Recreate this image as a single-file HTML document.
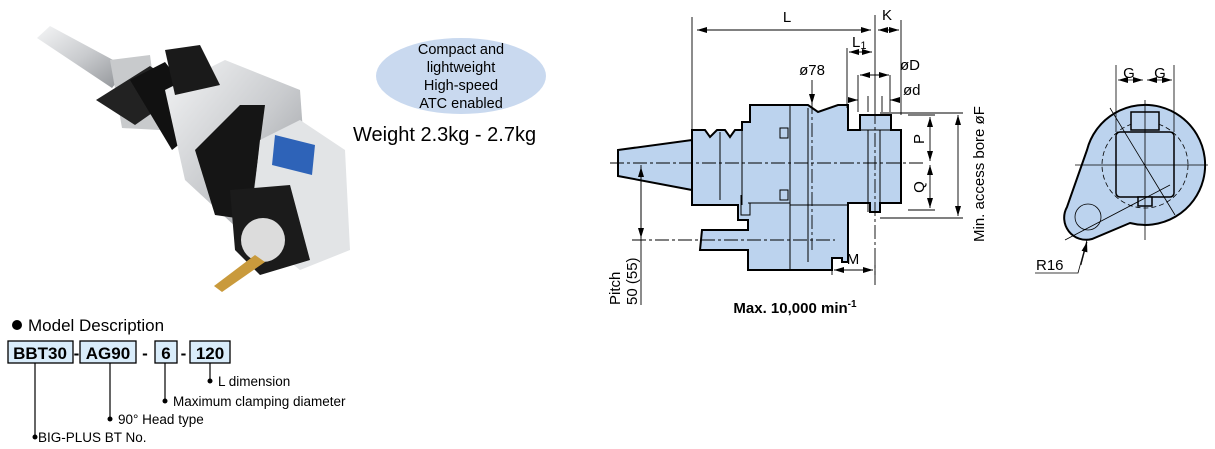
<!DOCTYPE html>
<html><head><meta charset="utf-8"><style>
body{margin:0;background:#fff;width:1215px;height:449px;overflow:hidden;font-family:"Liberation Sans",Arial,sans-serif}
svg{display:block}
text{font-family:"Liberation Sans",Arial,sans-serif}
</style></head><body>
<svg width="1215" height="449" viewBox="0 0 1215 449">
<defs>
<marker id="a" viewBox="0 0 10 6" refX="10" refY="3" markerWidth="10" markerHeight="6" orient="auto-start-reverse" markerUnits="userSpaceOnUse"><path d="M0,0L10,3L0,6z" fill="#000"/></marker>
<linearGradient id="m" x1="0" y1="0" x2="1" y2="1"><stop offset="0" stop-color="#f4f5f6"/><stop offset=".5" stop-color="#c9cbce"/><stop offset="1" stop-color="#8d9094"/></linearGradient>
</defs>
<!-- photo approximation -->
<g>
<polygon points="37,38 50,26 128,68 112,88" fill="url(#m)"/>
<polygon points="110,60 150,55 160,130 122,128" fill="#c8cacc"/>
<polygon points="96,100 150,66 185,90 135,125" fill="#222"/>
<polygon points="130,80 165,62 210,120 172,150" fill="#111"/>
<polygon points="165,90 225,60 300,90 310,230 250,240 185,180" fill="url(#m)"/>
<polygon points="165,50 200,45 220,85 175,95" fill="#1a1a1a"/>
<polygon points="195,150 240,105 265,105 250,220 215,215" fill="#151515"/>
<polygon points="260,140 300,120 345,150 350,250 300,270 250,230" fill="#e2e4e6"/>
<polygon points="230,190 290,185 310,260 260,275 235,250" fill="#1b1b1b"/>
<circle cx="263" cy="240" r="22" fill="#dcdcdc"/>
<polygon points="275,135 315,145 312,175 272,165" fill="#2e63b8"/>
<polygon points="255,255 265,262 222,292 214,286" fill="#c99a3c"/>
</g>
<!-- bubble -->
<ellipse cx="461" cy="76" rx="85" ry="38" fill="#c9d9ef"/>
<g font-size="14.5" text-anchor="middle" fill="#000">
<text x="461" y="54">Compact and</text><text x="461" y="72">lightweight</text><text x="461" y="90">High-speed</text><text x="461" y="108">ATC enabled</text>
</g>
<text x="353" y="141" font-size="20">Weight 2.3kg - 2.7kg</text>
<!-- model description -->
<circle cx="17" cy="325" r="5" fill="#000"/>
<text x="28" y="331" font-size="17">Model Description</text>
<g stroke="#000" stroke-width="1.3" fill="#d9ecfa">
<rect x="8" y="341" width="65" height="22"/><rect x="80" y="341" width="56" height="22"/><rect x="155" y="341" width="22" height="22"/><rect x="190" y="341" width="40" height="22"/>
</g>
<g font-size="17" font-weight="bold" text-anchor="middle">
<text x="40" y="359">BBT30</text><text x="108" y="359">AG90</text><text x="166" y="359">6</text><text x="210" y="359">120</text>
<text x="76.5" y="359">-</text><text x="145" y="359">-</text><text x="183.5" y="359">-</text>
</g>
<g stroke="#000" stroke-width="1.2" fill="none">
<path d="M35,363V437M110,363V419M165,363V401M210,363V381"/>
</g>
<g fill="#000"><circle cx="35" cy="437" r="2.5"/><circle cx="110" cy="419" r="2.5"/><circle cx="165" cy="401" r="2.5"/><circle cx="210" cy="381" r="2.5"/></g>
<g font-size="13.5"><text x="38" y="442">BIG-PLUS BT No.</text><text x="118" y="424">90° Head type</text><text x="173" y="406">Maximum clamping diameter</text><text x="218" y="386">L dimension</text></g>
<!-- side view -->
<g fill="#bcd3ee" stroke="#000" stroke-width="2">
<polygon points="618,150 692,140 692,190 618,176"/>
<path d="M692,130H705L710,137L717,130H725L730,137L735,130H742V122H750V105H808L818,112L838,105H848V130H860V115H891V130H901V203H880V212H870V203H848V262H842V258H832V270H748V250H700L702,230H748V220H738V205H692Z"/>
</g>
<g stroke="#000" stroke-width="1" fill="none">
<path d="M742,122V205M790,105V270M808,108V262M720,132V200M748,203H790M741,195V215H750V203M868,130V212M880,130V203M860,130H891M790,205H848"/>
<rect x="780" y="128" width="8" height="10"/><rect x="780" y="190" width="8" height="10"/>
</g>
<g stroke="#000" stroke-width="0.9" fill="none" stroke-dasharray="14,3,3,3">
<path d="M610,163H925M632,240H835M812,100V250M875,110V285"/>
</g>
<g stroke="#000" stroke-width="0.9" fill="none">
<path d="M692,17V140M875,15V110M901,20V115M847,48V108M858,75V112M868,96V112M882,96V112M890,75V112M641,165V305M908,115H935M908,210H935M880,113H963M880,218H963M832,262V275M875,262V275"/>
<path d="M697,30H871" marker-start="url(#a)" marker-end="url(#a)"/>
<path d="M878,30H899" marker-start="url(#a)" marker-end="url(#a)"/>
<path d="M849,52H872" marker-start="url(#a)" marker-end="url(#a)"/>
<path d="M860,75H889" marker-start="url(#a)" marker-end="url(#a)"/>
<path d="M848,100H858" marker-end="url(#a)"/><path d="M900,100H890" marker-end="url(#a)"/>
<path d="M812,80V104" marker-end="url(#a)"/>
<path d="M930,117V161" marker-start="url(#a)" marker-end="url(#a)"/>
<path d="M930,165V208" marker-start="url(#a)" marker-end="url(#a)"/>
<path d="M958,115V216" marker-start="url(#a)" marker-end="url(#a)"/>
<path d="M641,167V238" marker-start="url(#a)" marker-end="url(#a)"/>
<path d="M834,270H873" marker-start="url(#a)" marker-end="url(#a)"/>
</g>
<g font-size="15">
<text x="787" y="22" text-anchor="middle">L</text><text x="887" y="20" text-anchor="middle">K</text>
<text x="852" y="47">L<tspan font-size="11" dy="2">1</tspan></text>
<text x="900" y="70">øD</text><text x="903" y="95">ød</text><text x="812" y="75" text-anchor="middle">ø78</text>
<text x="853" y="264" text-anchor="middle">M</text>
<text transform="translate(924,139) rotate(-90)" text-anchor="middle">P</text>
<text transform="translate(924,187) rotate(-90)" text-anchor="middle">Q</text>
<text transform="translate(984,242) rotate(-90)">Min. access bore øF</text>
<text transform="translate(620,305) rotate(-90)">Pitch</text>
<text transform="translate(637,305) rotate(-90)">50 (55)</text>
</g>
<text x="795" y="313" font-size="15" font-weight="bold" text-anchor="middle">Max. 10,000 min<tspan font-size="10" dy="-6">-1</tspan></text>
<!-- end view -->
<path d="M1087,150L1067,207A22,22 0 0 0 1092,239L1130,223A60,60 0 1 0 1087,150Z" fill="#bcd3ee" stroke="#000" stroke-width="2"/>
<circle cx="1145" cy="165" r="43" fill="none" stroke="#000" stroke-width="0.8" stroke-dasharray="5,3"/>
<circle cx="1088" cy="217" r="13" fill="none" stroke="#000" stroke-width="0.8"/>
<rect x="1116" y="132" width="58" height="65" rx="4" fill="#bcd3ee" stroke="#000" stroke-width="1.5"/>
<rect x="1131" y="112" width="28" height="18" fill="#bcd3ee" stroke="#000" stroke-width="1.5"/>
<rect x="1138" y="197" width="14" height="9" fill="#bcd3ee" stroke="#000" stroke-width="1.5"/>
<g stroke="#000" stroke-width="0.8" fill="none">
<path d="M1075,165H1208M1145,100V240M1110,108L1175,215M1065,240L1170,185M1116,65V132M1174,65V132"/>
<path d="M1118,80H1143" marker-start="url(#a)" marker-end="url(#a)"/>
<path d="M1147,80H1172" marker-start="url(#a)" marker-end="url(#a)"/>
<path d="M1035,273H1078L1087,240"/><path d="M1081,265L1087,242" marker-end="url(#a)"/>
</g>
<g font-size="15"><text x="1129" y="78" text-anchor="middle">G</text><text x="1160" y="78" text-anchor="middle">G</text><text x="1036" y="270">R16</text></g>
</svg>
</body></html>
